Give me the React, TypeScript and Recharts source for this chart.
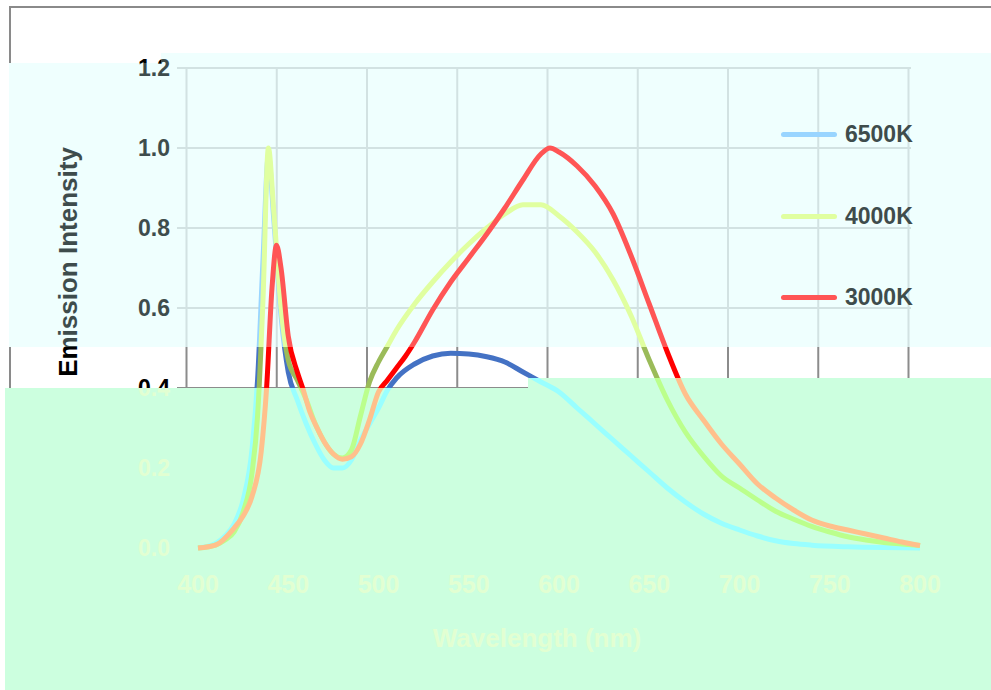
import React from 'react';
import { LineChart, Line, XAxis, YAxis, CartesianGrid, Legend, Label } from 'recharts';

// series (wavelength nm -> normalised intensity)
const seriesNames = ['6500K', '4000K', '3000K'];

const wl6500 = [400, 410, 415, 420, 425, 430, 433, 436, 439, 442, 446, 450, 455, 460, 465, 470, 475, 480, 485, 490, 495, 500, 505, 510, 520, 530, 540, 550, 560, 570, 580, 590, 600, 610, 620, 630, 640, 650, 660, 670, 680, 690, 700, 710, 720, 730, 740, 760, 780, 800];
const int6500 = [0, 0.012, 0.03, 0.06, 0.12, 0.25, 0.42, 0.72, 0.98, 0.82, 0.58, 0.44, 0.37, 0.31, 0.26, 0.22, 0.2, 0.2, 0.22, 0.27, 0.31, 0.35, 0.395, 0.425, 0.46, 0.48, 0.487, 0.485, 0.478, 0.465, 0.44, 0.415, 0.39, 0.35, 0.31, 0.27, 0.23, 0.19, 0.15, 0.115, 0.085, 0.062, 0.045, 0.03, 0.018, 0.011, 0.007, 0.003, 0.001, 0];

const wl4000 = [400, 410, 415, 420, 425, 430, 433, 436, 439, 442, 446, 450, 455, 460, 465, 470, 475, 480, 485, 490, 495, 500, 505, 510, 520, 530, 540, 550, 560, 570, 580, 590, 600, 610, 620, 630, 640, 650, 660, 670, 680, 690, 700, 710, 720, 730, 740, 750, 760, 770, 780, 790, 800];
const int4000 = [0, 0.008, 0.02, 0.04, 0.09, 0.19, 0.33, 0.62, 1.0, 0.84, 0.6, 0.47, 0.42, 0.37, 0.31, 0.265, 0.235, 0.225, 0.245, 0.33, 0.415, 0.465, 0.505, 0.545, 0.61, 0.665, 0.715, 0.76, 0.8, 0.835, 0.858, 0.858, 0.83, 0.79, 0.74, 0.67, 0.58, 0.47, 0.37, 0.29, 0.23, 0.18, 0.15, 0.12, 0.092, 0.072, 0.054, 0.04, 0.028, 0.02, 0.014, 0.01, 0.006];

const wl3000 = [400, 410, 420, 425, 430, 435, 438, 441, 443.5, 446, 450, 455, 458, 462, 466, 470, 475, 480, 485, 490, 495, 500, 505, 510, 515, 520, 530, 540, 550, 560, 570, 580, 590, 595, 600, 610, 620, 630, 640, 650, 660, 670, 680, 690, 700, 710, 720, 730, 740, 750, 760, 770, 780, 790, 800];
const int3000 = [0, 0.008, 0.05, 0.08, 0.13, 0.24, 0.4, 0.65, 0.757, 0.7, 0.53, 0.44, 0.4, 0.34, 0.3, 0.265, 0.235, 0.222, 0.228, 0.26, 0.32, 0.39, 0.42, 0.45, 0.48, 0.515, 0.595, 0.665, 0.725, 0.785, 0.85, 0.92, 0.985, 1.0, 0.99, 0.955, 0.905, 0.835, 0.73, 0.61, 0.49, 0.385, 0.32, 0.26, 0.21, 0.16, 0.125, 0.095, 0.07, 0.055, 0.045, 0.035, 0.025, 0.015, 0.006];

const xTicks = [400, 450, 500, 550, 600, 650, 700, 750, 800];
const yTicks = [0, 0.2, 0.4, 0.6, 0.8, 1.0, 1.2];

const toRows = (wl: number[], v: number[]) => wl.map((w, i) => ({ wl: w, v: v[i] }));
const data6500 = toRows(wl6500, int6500);
const data4000 = toRows(wl4000, int4000);
const data3000 = toRows(wl3000, int3000);

const W = 991;
const H = 690;
const FONT = '"Liberation Sans", Arial, sans-serif';

// the picture is split in bands with different tints
const CYAN_PATH = 'M9 63 H161 V53 H991 V347 H9 Z';
const GREEN_PATH = 'M5 388 H528 V378 H991 V690 H5 Z';
const CYAN_BG = '#effffe';
const GREEN_BG = '#ccffdf';

// [white band, cyan band, green band]
const tints: Record<string, [string, string, string]> = {
  pL6500: ['#4472c4', '#99d5ff', '#99ffff'],
  pL4000: ['#9bbb59', '#e0ffa0', '#bbff8c'],
  pL3000: ['#ff0000', '#ff5555', '#ffc08c'],
  pGrid: ['#8c8c8c', '#d2e2e2', GREEN_BG],
  pText: ['#000000', '#3e4c4c', '#e2ffd2'],
};
const legendColors = ['#99d5ff', '#e0ffa0', '#ff5555'];
const lineIds = ['pL6500', 'pL4000', 'pL3000'];
const lineData = [data6500, data4000, data3000];

const TitleX = 77;
const TitleY = 262;

function Tint({ id, colors, transform }: { id: string; colors: [string, string, string]; transform?: string }) {
  return (
    <pattern id={id} patternUnits="userSpaceOnUse" x={0} y={0} width={W} height={H} patternTransform={transform}>
      <rect x={0} y={0} width={W} height={H} fill={colors[0]} />
      <path d={CYAN_PATH} fill={colors[1]} />
      <path d={GREEN_PATH} fill={colors[2]} />
    </pattern>
  );
}

const renderLegend = () => (
  <div style={{ fontFamily: FONT, fontWeight: 'bold', fontSize: 23, color: '#3e4c4c' }}>
    {seriesNames.map((name, i) => (
      <div key={name} style={{ display: 'flex', alignItems: 'center', height: 81.5 }}>
        <div style={{ width: 56, height: 5, borderRadius: 3, background: legendColors[i], marginRight: 8 }} />
        <span>{name}</span>
      </div>
    ))}
  </div>
);

const YTick = ({ x, y, payload }: any) => (
  <text x={x} y={y} dy="0.355em" textAnchor="end" fill="url(#pText)" fontFamily={FONT} fontWeight="bold" fontSize={23}>
    {Number(payload.value).toFixed(1)}
  </text>
);

const renderYTitle = () => (
  <text
    x={TitleX}
    y={TitleY}
    transform={`rotate(-90 ${TitleX} ${TitleY})`}
    textAnchor="middle"
    fill="url(#pTextRot)"
    fontFamily={FONT}
    fontWeight="bold"
    fontSize={26}
  >
    Emission Intensity
  </text>
);

const renderXTitle = () => (
  <text x={537} y={647} textAnchor="middle" fill={tints.pText[2]} fontFamily={FONT} fontWeight="bold" fontSize={26}>
    Wavelength (nm)
  </text>
);

export default function App() {
  return (
    <div style={{ position: 'absolute', left: 0, top: 0, width: W, height: H, overflow: 'hidden', background: '#fff' }}>
      <svg width={W} height={H} style={{ position: 'absolute', left: 0, top: 0 }}>
        <defs>
          {Object.keys(tints).map((k) => (
            <Tint key={k} id={k} colors={tints[k]} />
          ))}
          <Tint id="pTextRot" colors={tints.pText} transform={`rotate(90 ${TitleX} ${TitleY})`} />
        </defs>
        <rect x={9} y={6} width={W - 9} height={2} fill="#8a8a8a" />
        <rect x={9} y={6} width={2} height={H} fill="#8a8a8a" />
        <path d={CYAN_PATH} fill={CYAN_BG} />
        <path d={GREEN_PATH} fill={GREEN_BG} />
      </svg>
      <div style={{ position: 'absolute', left: 0, top: 0 }}>
        <LineChart width={W} height={H} margin={{ top: 68, right: 71, bottom: 82, left: 0 }}>
          <CartesianGrid
            stroke="url(#pGrid)"
            strokeWidth={2}
            x={177}
            width={734}
            verticalCoordinatesGenerator={({ offset }: any) =>
              xTicks.map((t) => offset.left + ((t - 400) / 400) * offset.width - 11.5)
            }
          />
          <XAxis
            dataKey="wl"
            type="number"
            domain={[400, 800]}
            ticks={xTicks}
            interval={0}
            height={60}
            axisLine={false}
            tickLine={false}
            tickSize={0}
            tickMargin={27}
            tick={{ fill: tints.pText[2], fontSize: 25, fontWeight: 'bold', fontFamily: FONT }}
            allowDuplicatedCategory={false}
          >
            <Label content={renderXTitle} />
          </XAxis>
          <YAxis
            type="number"
            domain={[0, 1.2]}
            ticks={yTicks}
            interval={0}
            width={198}
            axisLine={false}
            tickLine={false}
            tickSize={0}
            tickMargin={28}
            tick={<YTick />}
          >
            <Label content={renderYTitle} />
          </YAxis>
          <Legend
            layout="vertical"
            align="center"
            verticalAlign="middle"
            content={renderLegend}
            wrapperStyle={{ position: 'absolute', left: 781, top: 94, width: 'auto', height: 'auto' }}
          />
          {seriesNames.map((name, i) => (
            <Line
              key={name}
              data={lineData[i]}
              dataKey="v"
              name={name}
              type="monotone"
              stroke={`url(#${lineIds[i]})`}
              strokeWidth={5}
              dot={false}
              activeDot={false}
              isAnimationActive={false}
            />
          ))}
        </LineChart>
      </div>
    </div>
  );
}
